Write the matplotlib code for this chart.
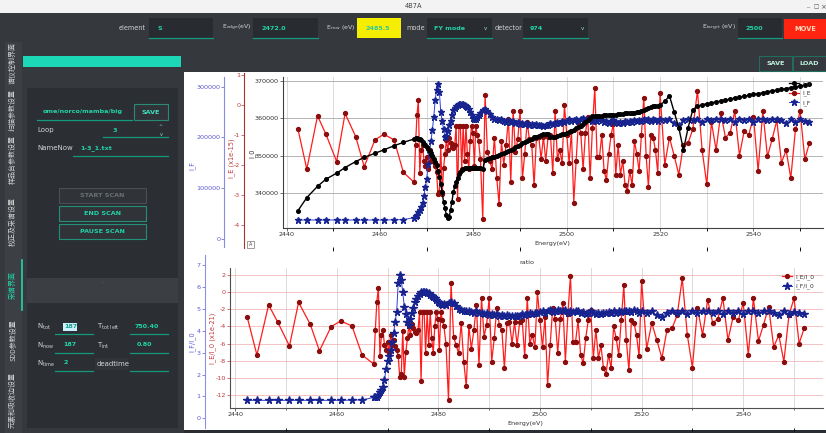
import numpy as np
import matplotlib
matplotlib.use('Agg')
import matplotlib.pyplot as plt
from matplotlib.patches import Rectangle
from matplotlib.ticker import MultipleLocator

plt.rcParams['font.family'] = ['DejaVu Sans', 'Noto Sans CJK SC']
plt.rcParams['axes.unicode_minus'] = False

W, H = 826, 433

# ---- scan data (energy in eV) ----
energy = [
    2442.4, 2444.3, 2446.6, 2448.4, 2450.7, 2452.5, 2454.8, 2456.6, 2458.9, 2460.8, 2463.0, 2465.0, 2467.3,
    2467.6, 2467.9, 2468.2, 2468.5, 2468.8, 2469.1, 2469.4, 2469.7, 2470.0, 2470.3, 2470.6, 2470.9,
    2471.2, 2471.5, 2471.8, 2472.1, 2472.4, 2472.7, 2473.0, 2473.3, 2473.6, 2473.9, 2474.2, 2474.5,
    2474.8, 2475.1, 2475.4, 2475.7, 2476.0, 2476.3, 2476.6, 2476.9, 2477.2, 2477.5, 2477.8, 2478.1,
    2478.4, 2478.7, 2479.0, 2479.3, 2479.6, 2479.9, 2480.2, 2480.5, 2480.8, 2481.1,
    2481.5, 2482.0, 2482.5, 2483.0, 2483.5, 2484.0, 2484.5, 2485.0, 2485.5, 2486.0,
    2486.5, 2487.0, 2487.5, 2488.0, 2488.5, 2489.0, 2489.5, 2490.0, 2490.5, 2491.0,
    2491.5, 2492.0, 2492.5, 2493.0, 2493.5, 2494.0, 2494.5, 2495.0, 2495.5, 2496.0,
    2496.5, 2497.0, 2497.5, 2498.0, 2498.5, 2499.0, 2499.5, 2500.0, 2500.5, 2501.0,
    2501.5, 2502.0, 2502.5, 2503.0, 2503.5, 2504.0, 2504.5, 2505.0, 2505.5, 2506.0,
    2506.5, 2507.0, 2507.5, 2508.0, 2508.5, 2509.0, 2509.5, 2510.0, 2510.5, 2511.0,
    2511.5, 2512.0, 2512.5, 2513.0, 2513.5, 2514.0, 2514.5, 2515.0, 2515.5, 2516.0,
    2516.5, 2517.0, 2517.5, 2518.0, 2518.5, 2519.0, 2519.5, 2520.0,
    2521, 2522, 2523, 2524, 2525, 2526, 2527, 2528, 2529, 2530,
    2531, 2532, 2533, 2534, 2535, 2536, 2537, 2538, 2539, 2540,
    2541, 2542, 2543, 2544, 2545, 2546, 2547, 2548, 2549, 2550, 2551, 2552]

i0 = [
    335400, 338900, 341900, 343800, 345400, 346900, 348500, 349600, 350700, 351600, 352700, 353600, 354500,
    354700, 354700, 354600, 354450, 354200, 353600, 353100, 352800, 352400, 351800, 351200, 350500,
    349900, 349200, 348400, 347500, 346000, 344500, 342600, 340300, 337800, 336000, 334300, 333500,
    333600, 335700, 337800, 340400, 341900, 343100, 344200, 345100, 345800, 346200, 346500, 346700,
    346800, 346800, 346900, 346900, 346900, 346900, 346900, 346900, 346800, 346800,
    346700, 346600, 348900, 349300, 349500, 349700, 349800, 350000, 350300, 350500,
    350700, 351000, 351300, 351600, 351900, 352300, 352600, 353000, 353300, 353700,
    354000, 354300, 354600, 354900, 355100, 355300, 355500, 355700, 355900, 355700,
    354900, 354900, 355100, 355300, 355500, 355700, 355900, 356100, 356400, 356700,
    357000, 357300, 357600, 358000, 358400, 358900, 359500, 360200, 360500, 360500,
    360600, 360700, 360700, 360800, 360800, 360900, 360900, 361000, 361000, 361100,
    361200, 361200, 361300, 361300, 361400, 361400, 361500, 361600, 361700, 361900,
    362200, 362500, 362800, 363000, 363200, 363300, 363400, 363600,
    364500, 366000, 361800, 357500, 351600, 357500, 362300, 363200, 363600, 363900,
    364100, 364400, 364600, 364900, 365100, 365400, 365600, 365900, 366100, 366400,
    366600, 366800, 367100, 367300, 367500, 367700, 367900, 368200, 368400, 368600, 368900, 369100]

i_e = [
    -0.80, -2.13, -0.36, -0.97, -1.88, -0.28, -1.06, -2.05, -1.16, -0.97, -1.16, -2.24, -2.57,
    -1.32, -0.33, 0.15, -2.25, -1.50, -1.32, -1.86, -2.04, -1.74, -2.13, -1.50, -1.86,
    -1.68, -1.89, -2.04, -2.22, -2.97, -2.88, -1.35, -2.97, -2.10, -1.62, -1.17, -1.50,
    -1.11, -1.26, -1.38, -1.44, -1.32, -0.69, -3.12, -0.69, -0.69, -2.13, -0.69, -1.86,
    -0.69, -1.62, -2.13, -1.20, -0.69, -0.93, -2.04, -0.69, -0.99, -1.20,
    -1.80, -3.78, 0.33, -1.56, -1.86, -2.13, -1.08, -2.43, -3.30, -1.20,
    -1.98, -1.32, -0.45, -2.55, -0.21, -1.56, -1.14, -0.21, -2.43, -1.62,
    -0.57, -1.14, -1.32, -2.67, -1.08, -1.05, -1.80, -1.05, -1.86, -1.05,
    -0.99, -2.25, -0.21, -1.80, -1.50, -1.92, 0.00, -0.99, -1.92, -0.87,
    -3.24, -1.86, -0.57, -0.93, -2.13, -0.93, -0.39, -2.43, -0.75, 0.57,
    -1.74, -1.74, -0.99, -2.19, -2.49, -1.62, -0.99, -0.63, -2.31, -1.32,
    -2.31, -1.86, -2.67, -2.85, -2.19, -2.67, -1.20, -1.62, -2.19, -0.99,
    0.24, -1.68, -2.73, -0.99, -1.08, -1.50, -2.25, 0.39,
    -1.98, -1.08, -1.68, -2.31, -1.32, -1.26, -0.81, 0.48, -1.50, -2.64,
    -0.57, -1.50, -0.27, -1.08, -0.93, -0.21, -1.68, -0.87, -0.99, -0.39,
    -2.19, -0.21, -1.71, -1.14, -0.51, -1.92, -1.50, -2.43, -0.81, -0.21, -1.80, -1.26]

i_f = [
    37400, 37400, 37400, 37400, 37400, 37400, 37400, 37400, 37400, 37400, 37800, 38200, 42000,
    45000, 48000, 53000, 58000, 63000, 71000, 85000, 103000, 119000, 148000, 170000, 192000,
    215000, 240000, 273000, 293000, 306000, 290000, 250000, 232000, 217000, 201000, 203000, 213000,
    224000, 232000, 244000, 253000, 258000, 262000, 264000, 266000, 266000, 266000, 265000, 263000,
    261000, 259000, 255000, 250000, 245000, 239000, 237000, 237000, 240000, 245000,
    248000, 253000, 256000, 252000, 246000, 240000, 237000, 236000, 234000, 236000,
    233000, 231000, 234000, 230000, 232000, 229000, 231000, 227000, 229000, 226000,
    228000, 225000, 227000, 224000, 226000, 224000, 225000, 223000, 225000, 224000,
    228000, 226000, 229000, 231000, 228000, 232000, 230000, 233000, 236000, 232000,
    235000, 237000, 233000, 236000, 238000, 234000, 236000, 237000, 232000, 235000,
    233000, 236000, 234000, 231000, 233000, 229000, 232000, 234000, 230000, 228000,
    231000, 229000, 232000, 230000, 233000, 231000, 234000, 232000, 235000, 233000,
    236000, 234000, 236000, 233000, 237000, 235000, 232000, 236000,
    234000, 237000, 228000, 224000, 234000, 237000, 234000, 237000, 231000, 237000,
    234000, 237000, 237000, 234000, 237000, 231000, 237000, 234000, 237000, 231000,
    237000, 237000, 234000, 237000, 237000, 234000, 228000, 237000, 231000, 236000, 233000, 230000]

ie_i0 = [
    -2.94, -7.34, -1.49, -3.51, -6.28, -1.19, -3.76, -6.85, -4.03, -3.36, -3.95, -7.34, -8.39,
    -4.4, -1.1, 0.5, -7.5, -5.0, -4.4, -6.2, -6.8, -5.8, -7.1, -5.0, -6.2,
    -5.6, -6.3, -6.8, -7.4, -9.9, -9.6, -4.5, -9.9, -7.0, -5.4, -3.9, -5.0,
    -3.7, -4.2, -4.6, -4.8, -4.4, -2.3, -10.4, -2.3, -2.3, -7.1, -2.3, -6.2,
    -2.3, -5.4, -7.1, -4.0, -2.3, -3.1, -6.8, -2.3, -3.3, -4.0,
    -6.0, -12.6, 1.1, -5.2, -6.2, -7.1, -3.6, -8.1, -11.0, -4.0,
    -6.6, -4.4, -1.5, -8.5, -0.7, -5.2, -3.8, -0.7, -8.1, -5.4,
    -1.9, -3.8, -4.4, -8.9, -3.6, -3.5, -6.0, -3.5, -6.2, -3.5,
    -3.3, -7.5, -0.7, -6.0, -5.0, -6.4, 0.0, -3.3, -6.4, -2.9,
    -10.8, -6.2, -1.9, -3.1, -7.1, -3.1, -1.3, -8.1, -2.5, 1.9,
    -5.8, -5.8, -3.3, -7.3, -8.3, -5.4, -3.3, -2.1, -7.7, -4.4,
    -7.7, -6.2, -8.9, -9.5, -7.3, -8.9, -4.0, -5.4, -7.3, -3.3,
    0.8, -5.6, -9.1, -3.3, -3.6, -5.0, -7.5, 1.3,
    -6.6, -3.6, -5.6, -7.7, -4.4, -4.2, -2.7, 1.6, -5.0, -8.8,
    -1.9, -5.0, -0.9, -3.6, -3.1, -0.7, -5.6, -2.9, -3.3, -1.3,
    -7.3, -0.7, -5.7, -3.8, -1.7, -6.4, -5.0, -8.1, -2.7, -0.7, -6.0, -4.2]

if_i0 = [
    0.82, 0.82, 0.82, 0.82, 0.82, 0.82, 0.82, 0.82, 0.82, 0.82, 0.83, 0.84, 0.95,
    0.97, 0.99, 1.08, 1.18, 1.27, 1.45, 1.75, 2.25, 2.60, 2.85, 3.10, 3.50,
    3.90, 4.41, 4.87, 6.16, 6.54, 6.30, 5.75, 5.10, 4.75, 4.40, 4.26, 4.55,
    4.80, 5.02, 5.32, 5.45, 5.60, 5.68, 5.75, 5.78, 5.78, 5.76, 5.73, 5.70,
    5.65, 5.60, 5.55, 5.48, 5.40, 5.32, 5.25, 5.20, 5.17, 5.22,
    5.17, 5.27, 5.33, 5.25, 5.13, 5.00, 4.94, 4.92, 4.88, 4.92,
    4.85, 4.81, 4.88, 4.79, 4.83, 4.77, 4.81, 4.73, 4.77, 4.71,
    4.75, 4.69, 4.73, 4.67, 4.71, 4.67, 4.69, 4.65, 4.69, 4.67,
    4.75, 4.71, 4.77, 4.81, 4.75, 4.83, 4.79, 4.85, 4.92, 4.83,
    4.90, 4.94, 4.85, 4.92, 4.96, 4.88, 4.92, 4.94, 4.83, 4.90,
    4.85, 4.92, 4.88, 4.81, 4.85, 4.77, 4.83, 4.88, 4.79, 4.75,
    4.81, 4.77, 4.83, 4.79, 4.85, 4.81, 4.88, 4.83, 4.90, 4.85,
    4.92, 4.88, 4.92, 4.85, 4.94, 4.90, 4.83, 4.92,
    4.82, 4.89, 4.70, 4.62, 4.82, 4.89, 4.82, 4.89, 4.76, 4.89,
    4.82, 4.89, 4.89, 4.82, 4.89, 4.76, 4.89, 4.82, 4.89, 4.76,
    4.89, 4.89, 4.82, 4.89, 4.89, 4.82, 4.70, 4.89, 4.76, 4.87, 4.80, 4.74]

x_ticks = [2440, 2460, 2480, 2500, 2520, 2540]
i0_ticks = [340000, 350000, 360000, 370000]
ie_ticks = [-4, -3, -2, -1, 0, 1]
if_ticks = [0, 100000, 200000, 300000]
ratio_e_ticks = [-12, -10, -8, -6, -4, -2, 0, 2]
ratio_f_ticks = [0, 1, 2, 3, 4, 5, 6, 7]
tabs = ['谱仪控制界面', '扫描参数设置', '样品台参数设置', '校正及采谱设置', '采谱界面', 'SDD参数设置', '元素和吸收边设置']

BODY = '#35393d'
FIELD = '#282b2f'
PANEL = '#2b2e32'
TEAL = '#22d3a8'
LINE_TEAL = '#159a80'
LIGHT = '#d2d2d2'
RED = '#ff1c1c'
DARKRED = '#8c0d0d'
BLUE = '#2b3fd9'
NAVY = '#17238f'
E_LAB = '#c23a3a'
F_LAB = '#5a5ad0'


def box(x0, y0, x1, y1):
    # pixel box (top-left origin) -> figure fraction
    return [x0 / W, 1 - y1 / H, (x1 - x0) / W, (y1 - y0) / H]


fig = plt.figure(figsize=(W / 100, H / 100), dpi=100, facecolor=BODY)
bg = fig.add_axes([0, 0, 1, 1])
bg.set_xlim(0, W)
bg.set_ylim(H, 0)
bg.axis('off')


def rect(x0, y0, x1, y1, fc, ec='none', lw=0, z=1):
    bg.add_patch(Rectangle((x0, y0), x1 - x0, y1 - y0, facecolor=fc, edgecolor=ec, linewidth=lw, zorder=z))


def label(x, y, s, color=LIGHT, size=5, ha='left', weight='normal', z=3, **kw):
    bg.text(x, y, s, color=color, fontsize=size, ha=ha, va='center', fontweight=weight, zorder=z, **kw)


def uline(x0, x1, y):
    bg.plot([x0, x1], [y, y], color=LINE_TEAL, lw=0.9, zorder=4)


def field(x0, x1, y0, y1, text, tx, fc=FIELD, tcolor=TEAL):
    rect(x0, y0, x1, y1, fc, z=3)
    uline(x0, x1, y1)
    label(tx, (y0 + y1) / 2, text, color=tcolor, weight='bold', size=4.6, z=5)


def button(x0, y0, x1, y1, text, ec, tc, fc='#303438'):
    rect(x0, y0, x1, y1, fc, ec=ec, lw=0.8, z=3)
    label((x0 + x1) / 2, (y0 + y1) / 2, text, color=tc, ha='center', weight='bold', size=4.6, z=5)


# ---- window chrome ----
rect(0, 0, W, 13, '#f3f3f3')
label(413, 6.5, '4B7A', color='#444444', ha='center', size=4.8)
label(808, 6, '_', color='#555555', ha='center', size=4.5)
label(816, 7, '□', color='#555555', ha='center', size=4)
label(823, 7, '×', color='#555555', ha='center', size=5)

# top bar
label(146, 28, 'element', ha='right', size=4.7)
field(149, 213, 18, 38, 'S', 157)
label(222, 28, r'E$_{\mathrm{edge}}$(eV)', size=4.5)
field(253, 318, 18, 38, '2472.0', 261)
label(326, 28, r'E$_{\mathrm{now}}$ (eV)', size=4.5)
rect(357, 18, 401, 38, '#f6ee00', z=3)
label(365, 28, '2485.5', color='#2fc79e', weight='bold', size=4.6, z=5)
label(425, 28, 'mode', ha='right', size=4.7)
field(427, 492, 18, 38, 'FY mode', 434)
label(484, 28, 'v', color='#9adfcf', size=4, z=5)
label(495, 28, 'detector', z=2, size=4.7)
field(523, 588, 18, 38, '974', 530)
label(581, 28, 'v', color='#9adfcf', size=4, z=5)
label(702, 28, r'E$_{\mathrm{target}}$ (eV)', size=4.5)
field(738, 782, 18, 38, '2500', 746)
rect(784, 19, 826, 39, '#ff2412', z=3)
label(805, 29, 'MOVE', color='#ffd9b8', ha='center', weight='bold', size=4.8, z=5)
button(759, 56, 792, 71, 'SAVE', '#1f6e5d', '#c2f3e4', fc=BODY)
button(793, 56, 826, 71, 'LOAD', '#1f6e5d', '#c2f3e4', fc=BODY)

# left tabs
rect(5, 42, 22, H, '#3c4044')
tab_y = [63, 110, 160, 222, 285, 340, 400]
for name, yc in zip(tabs, tab_y):
    col = TEAL if name == '采谱界面' else LIGHT
    bg.text(13, yc, name, rotation=90, ha='center', va='center', fontsize=5.0, color=col,
            family=['Noto Sans CJK SC', 'DejaVu Sans'], zorder=3)
bg.plot([22, 22], [260, 310], color=TEAL, lw=1.2, zorder=3)

# left panel
rect(23, 56, 181, 67, '#1cd8b6', z=2)
rect(27, 88, 178, 278, PANEL, z=2)
rect(27, 278, 178, 303, '#3b3f43', z=2)
label(102, 283, '·', color='#888888', ha='center', size=4)
rect(27, 303, 178, 428, PANEL, z=2)

uline(37, 132, 120)
label(43, 112, 'ome/norco/mamba/big', color=TEAL, weight='bold', size=4.6)
button(134, 104, 168, 120, 'SAVE', '#2a8a74', '#3fe0c0')
label(37, 130, 'Loop')
uline(103, 168, 137)
label(113, 130, '3', color=TEAL, weight='bold', size=4.6)
label(161, 127, '^', color='#9adfcf', size=3.5, ha='center')
label(161, 134, 'v', color='#9adfcf', size=3.5, ha='center')
label(37, 148, 'NameNow')
uline(73, 168, 156)
label(80, 148, '1-3_1.txt', color=TEAL, weight='bold', size=4.6)
button(59, 188, 146, 203, 'START SCAN', '#4a4f54', '#6a6f74')
button(59, 206, 146, 221, 'END SCAN', '#238f77', TEAL)
button(59, 224, 146, 239, 'PAUSE SCAN', '#238f77', TEAL)

label(37, 327, r'N$_{\mathrm{tot}}$')
rect(63, 323, 77, 331, '#c9f1ff', z=3)
label(64, 327, '187', color='#1a9f85', weight='bold', size=4.6, z=5)
uline(55, 93, 334)
label(97, 327, r'T$_{\mathrm{tot\ left}}$')
label(135, 327, '750.40', color=TEAL, weight='bold', size=4.6)
uline(130, 168, 334)
label(37, 346, r'N$_{\mathrm{now}}$')
label(63, 345, '187', color=TEAL, weight='bold', size=4.6)
uline(55, 93, 353)
label(97, 346, r'T$_{\mathrm{int}}$')
label(137, 345, '0.80', color=TEAL, weight='bold', size=4.6)
uline(130, 168, 353)
label(37, 364, r'N$_{\mathrm{time}}$')
label(63, 363, '2', color=TEAL, weight='bold', size=4.6)
uline(55, 93, 371)
rect(95, 358, 128, 370, '#303438', z=3)
label(97, 364, 'deadtime', z=5)
uline(130, 168, 371)

# plot widget area
rect(184, 72, W, 430, 'white', z=1)
rect(184, 430, W, H, '#2a2d31', z=1)

E = np.array(energy)


def clean(ax):
    ax.patch.set_visible(False)
    for s in ax.spines.values():
        s.set_visible(False)
    ax.tick_params(axis='x', bottom=False, labelbottom=False)


def side_axis(ax, xpos, color, lab_color):
    ax.spines['left'].set_visible(True)
    ax.spines['left'].set_position(('axes', xpos))
    ax.spines['left'].set_color(color)
    ax.spines['left'].set_linewidth(0.8)
    ax.tick_params(axis='y', labelsize=4.6, length=2, width=0.5, pad=1, colors=lab_color)


# ---- upper plot: I_0, I_E, I_F ----
ax_top = fig.add_axes(box(283, 77, 823, 228))
ax_top.patch.set_visible(False)
ax_top.spines[['top', 'right']].set_visible(False)
for s in ['left', 'bottom']:
    ax_top.spines[s].set_color('#404040')
    ax_top.spines[s].set_linewidth(0.8)
ax_top.set_xlim(2439.2, 2554.9)
ax_top.set_ylim(330800, 371000)
ax_top.set_xticks(x_ticks)
ax_top.xaxis.set_minor_locator(MultipleLocator(10))
ax_top.set_yticks(i0_ticks)
ax_top.ticklabel_format(axis='y', style='plain', useOffset=False)
ax_top.tick_params(labelsize=4.6, length=2, width=0.5, pad=1, colors='#333333')
ax_top.tick_params(which='minor', length=1.2, width=0.4)
ax_top.grid(axis='x', which='both', color='#d4d4d4', lw=0.6)
ax_top.grid(axis='y', which='major', color='#a8a8a8', lw=0.6)

ax_ie = fig.add_axes(box(283, 73, 823, 247.7), sharex=ax_top)
clean(ax_ie)
side_axis(ax_ie, (244.3 - 283) / 540, '#a83434', E_LAB)
ax_ie.set_ylim(-4.741, 1.063)
ax_ie.set_yticks(ie_ticks)
line_e, = ax_ie.plot(E, i_e, '-o', color=RED, lw=0.9, ms=2.8, mfc=DARKRED, mec=DARKRED)

ax_if = fig.add_axes(box(283, 76.7, 823, 246.7), sharex=ax_top)
clean(ax_if)
side_axis(ax_if, (224.3 - 283) / 540, '#8a8ae6', F_LAB)
ax_if.set_ylim(-15160, 319500)
ax_if.set_yticks(if_ticks)
ax_if.ticklabel_format(axis='y', style='plain', useOffset=False)
line_f, = ax_if.plot(E, i_f, '-*', color=BLUE, lw=0.7, ms=5, mfc=NAVY, mec=NAVY)

ax_i0 = fig.add_axes(box(283, 77, 823, 228), sharex=ax_top)
clean(ax_i0)
ax_i0.tick_params(axis='y', left=False, labelleft=False)
ax_i0.set_ylim(330800, 371000)
line_0, = ax_i0.plot(E, i0, '-o', color='black', lw=1.0, ms=2.6)

ax_i0.legend([line_0, line_e, line_f], ['I_0', 'I_E', 'I_F'], loc='upper left',
             bbox_to_anchor=(789 / W, 1 - 81 / H), bbox_transform=fig.transFigure,
             frameon=False, fontsize=4.3, handlelength=1.6, handletextpad=0.6,
             labelspacing=0.6, borderpad=0, borderaxespad=0, labelcolor='#333333')

label(192, 165, 'I_F', color=F_LAB, ha='center', size=4.8, rotation=90)
label(232, 158, 'I_E (x1e-15)', color=E_LAB, ha='center', size=4.8, rotation=90)
label(252, 153, 'I_0', color='#333333', ha='center', size=4.8, rotation=90)
label(552, 243, 'Energy(eV)', color='#333333', ha='center', size=4.6)
rect(247, 241, 254, 248, 'white', ec='#777777', lw=0.5, z=3)
label(250.5, 244.5, 'A', color='#444444', ha='center', size=3.5, z=5)

# ---- lower plot: ratio ----
ax_low = fig.add_axes(box(230, 268.3, 823, 407.7))
ax_low.patch.set_visible(False)
ax_low.spines[['top', 'right']].set_visible(False)
for s in ['left', 'bottom']:
    ax_low.spines[s].set_color('#505050')
    ax_low.spines[s].set_linewidth(0.8)
ax_low.set_xlim(2439.0, 2555.7)
ax_low.set_ylim(-13.48, 2.78)
ax_low.set_xticks(x_ticks)
ax_low.xaxis.set_minor_locator(MultipleLocator(10))
ax_low.set_yticks(ratio_e_ticks)
ax_low.tick_params(axis='x', labelsize=4.6, length=2, width=0.5, pad=1, colors='#333333')
ax_low.tick_params(axis='x', which='minor', length=1.2, width=0.4)
ax_low.tick_params(axis='y', labelsize=4.6, length=2, width=0.5, pad=1, colors=E_LAB)
ax_low.grid(axis='x', which='both', color='#d4d4d4', lw=0.6)
ax_low.grid(axis='y', which='major', color='#f2b8b8', lw=0.6)
line_re, = ax_low.plot(E, ie_i0, '-o', color=RED, lw=0.9, ms=2.8, mfc=DARKRED, mec=DARKRED)

ax_lf = fig.add_axes(box(230, 255, 823, 428), sharex=ax_low)
clean(ax_lf)
side_axis(ax_lf, -25 / 593, '#8f8fe6', F_LAB)
ax_lf.set_ylim(-0.443, 7.457)
ax_lf.set_yticks(ratio_f_ticks)
line_rf, = ax_lf.plot(E, if_i0, '-*', color=BLUE, lw=0.7, ms=5.3, mfc=NAVY, mec=NAVY)

ax_lf.legend([line_re, line_rf], ['I_E/I_0', 'I_F/I_0'], loc='upper left',
             bbox_to_anchor=(782 / W, 1 - 274 / H), bbox_transform=fig.transFigure,
             frameon=False, fontsize=4.3, handlelength=1.6, handletextpad=0.6,
             labelspacing=0.6, borderpad=0, borderaxespad=0, labelcolor='#333333')

label(192, 342, 'I_F/I_0', color=F_LAB, ha='center', size=4.8, rotation=90)
label(213, 338, 'I_E/I_0 (x1e-21)', color=E_LAB, ha='center', size=4.8, rotation=90)
label(527, 262, 'ratio', color='#333333', ha='center', size=4.6)
label(525, 423, 'Energy(eV)', color='#333333', ha='center', size=4.6)

fig.savefig('out.png', dpi=100, facecolor=BODY)
